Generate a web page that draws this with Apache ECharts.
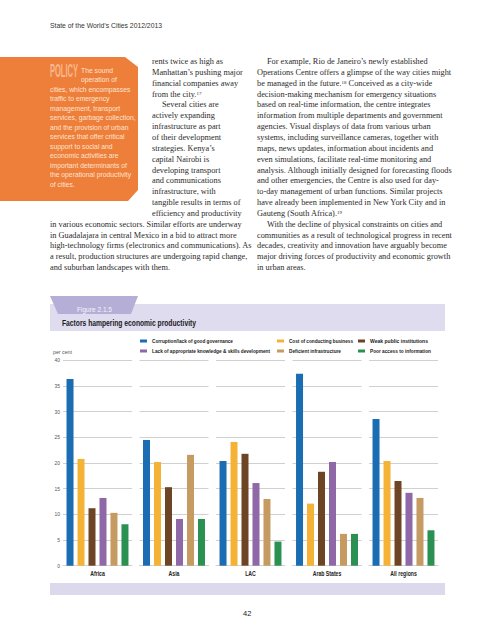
<!DOCTYPE html>
<html>
<head>
<meta charset="utf-8">
<script src="https://cdn.jsdelivr.net/npm/echarts@6/dist/echarts.min.js"></script>
<style>
html,body{margin:0;padding:0;background:#fff;}
#page{position:relative;width:495px;height:640px;overflow:hidden;background:#fff;}
#chart{position:absolute;left:0;top:0;width:495px;height:640px;}
.ln{position:absolute;white-space:nowrap;transform-origin:0 0;}
.body{font-family:'Liberation Serif',serif;font-size:8.3px;color:#2b2b2b;line-height:10px;height:10px;text-align:left;}
.box{font-family:'Liberation Sans',sans-serif;font-size:7.8px;color:#fde3cf;line-height:9px;}
.sans{font-family:'Liberation Sans',sans-serif;}
sup{font-size:60%;line-height:0;vertical-align:0.35em;}
</style>
</head>
<body>
<div id="page">
  <div id="chart"></div>
  <div id="text"></div>
</div>
<script>
// ---------------- chart data ----------------
const categories = ['Africa', 'Asia', 'LAC', 'Arab States', 'All regions'];
const factorNames = [
  'Corruption/lack of good governance',
  'Cost of conducting business',
  'Weak public institutions',
  'Lack of appropriate knowledge & skills development',
  'Deficient infrastructure',
  'Poor access to information'
];
const corruption = [36.4, 24.5, 20.4, 37.4, 28.6];
const costBusiness = [20.8, 20.2, 24.1, 12.1, 20.4];
const weakInstitutions = [11.2, 15.3, 21.8, 18.3, 16.5];
const lackSkills = [13.2, 9.1, 16.1, 20.2, 14.2];
const deficientInfra = [10.3, 21.6, 13.0, 6.2, 13.2];
const poorInfo = [8.1, 9.1, 4.7, 6.2, 6.9];
const yMin = 0, yMax = 40, yStep = 5;

// ---------------- page text ----------------
const headerText = "State of the World\u2019s Cities 2012/2013";
const boxLines = [
  'The sound', 'operation of', 'cities, which encompasses', 'traffic to emergency',
  'management, transport', 'services, garbage collection,', 'and the provision of urban',
  'services that offer critical', 'support to social and', 'economic activities are',
  'important determinants of', 'the operational productivity', 'of cities.'
];
const midLines = [
  'rents twice as high as', 'Manhattan\u2019s pushing major', 'financial companies away',
  'from the city.<sup>17</sup>', 'Several cities are', 'actively expanding',
  'infrastructure as part', 'of their development', 'strategies. Kenya\u2019s',
  'capital Nairobi is', 'developing transport', 'and communications',
  'infrastructure, with', 'tangible results in terms of', 'efficiency and productivity'
];
const leftLines = [
  'in various economic sectors. Similar efforts are underway',
  'in Guadalajara in central Mexico in a bid to attract more',
  'high-technology firms (electronics and communications). As',
  'a result, production structures are undergoing rapid change,',
  'and suburban landscapes with them.'
];
const rightLines = [
  'For example, Rio de Janeiro\u2019s newly established',
  'Operations Centre offers a glimpse of the way cities might',
  'be managed in the future.<sup>18</sup> Conceived as a city-wide',
  'decision-making mechanism for emergency situations',
  'based on real-time information, the centre integrates',
  'information from multiple departments and government',
  'agencies. Visual displays of data from various urban',
  'systems, including surveillance cameras, together with',
  'maps, news updates, information about incidents and',
  'even simulations, facilitate real-time monitoring and',
  'analysis. Although initially designed for forecasting floods',
  'and other emergencies, the Centre is also used for day-',
  'to-day management of urban functions. Similar projects',
  'have already been implemented in New York City and in',
  'Gauteng (South Africa).<sup>19</sup>',
  'With the decline of physical constraints on cities and',
  'communities as a result of technological progress in recent',
  'decades, creativity and innovation have arguably become',
  'major driving forces of productivity and economic growth',
  'in urban areas.'
];
const midIndent = [4];
const rightIndent = [0, 15];

// ---------------- build page text ----------------
const T = document.getElementById('text');
function add(html, cls, left, top, extra) {
  const d = document.createElement('div');
  d.className = 'ln ' + cls;
  d.innerHTML = html;
  d.style.left = left + 'px';
  d.style.top = top + 'px';
  if (extra) Object.assign(d.style, extra);
  T.appendChild(d);
  return d;
}
function fitWidth(el, w) {
  const nat = el.getBoundingClientRect().width;
  el.style.transform = 'scaleX(' + (w / nat) + ')';
}
const L0 = 62, LS = 10.85, IND = 10;
function bodyCol(lines, x, startIdx, indents) {
  lines.forEach((t, k) => {
    const ind = indents.includes(k) ? IND : 0;
    add(t, 'body', x + ind, L0 + (startIdx + k) * LS - 5);
  });
}
bodyCol(midLines, 152, 0, midIndent);
bodyCol(leftLines, 50, 15, []);
bodyCol(rightLines, 257, 0, rightIndent);

// header & page number
const hdr = add(headerText, 'sans', 50, 21, {fontSize: '8px', color: '#333', lineHeight: '10px'});
fitWidth(hdr, 112);
add('42', 'sans', 243, 609, {fontSize: '7.5px', color: '#222', lineHeight: '10px'});

// policy box text
const pol = add('POLICY', 'sans', 50, 62, {fontSize: '18px', fontWeight: 'bold', color: '#f8b98c', lineHeight: '18px'});
fitWidth(pol, 28);
boxLines.forEach((t, k) => {
  const x = k < 2 ? 81 : 50;
  const el = add(t, 'box', x, 70 + 9.5 * k - 4.5);
  el.style.transform = 'scaleX(0.87)';
});

// ---------------- chart ----------------
const FN = "'Liberation Sans',sans-serif";
const seriesData = [corruption, costBusiness, weakInstitutions, lackSkills, deficientInfra, poorInfo];
const colors = ['#1a6db3', '#f4b236', '#6e4524', '#8e68a7', '#c59b62', '#2b9152'];

const gLeft = 63, gStep = 76.5, gWidth = 69, gTop = 360.4, gHeight = 205.3;
const grids = categories.map((c, i) => ({left: gLeft + gStep * i, top: gTop, width: gWidth, height: gHeight}));
const xAxes = categories.map((c, i) => ({
  type: 'category', gridIndex: i, data: [c],
  axisTick: {show: false},
  axisLine: {show: true, lineStyle: {color: '#d0d0d0', width: 1}},
  axisLabel: {margin: 5, fontSize: 6.3, fontWeight: 'bold', color: '#222', fontFamily: FN}
}));
const yAxes = categories.map((c, i) => ({
  type: 'value', gridIndex: i, min: yMin, max: yMax, interval: yStep,
  axisLine: {show: false}, axisTick: {show: false},
  splitLine: {show: true, lineStyle: {color: '#d0d0d0', width: 1}},
  axisLabel: {show: i === 0, margin: 3, fontSize: 6, color: '#555', fontFamily: FN}
}));
const series = [];
categories.forEach((c, i) => {
  seriesData.forEach((arr, j) => {
    series.push({
      type: 'bar', name: factorNames[j], xAxisIndex: i, yAxisIndex: i,
      data: [arr[i]], barWidth: 7, barGap: '57%',
      itemStyle: {color: colors[j]}, silent: true
    });
  });
});
const legendBase = {
  orient: 'vertical', top: 337, padding: 0, itemWidth: 7, itemHeight: 3, itemGap: 2,
  icon: 'rect', selectedMode: false,
  textStyle: {fontSize: 5.2, fontWeight: 'bold', color: '#222', fontFamily: FN, lineHeight: 8}
};
const legends = [
  Object.assign({}, legendBase, {left: 140, data: [factorNames[0], factorNames[3]]}),
  Object.assign({}, legendBase, {left: 277, data: [factorNames[1], factorNames[4]]}),
  Object.assign({}, legendBase, {left: 358, data: [factorNames[2], factorNames[5]]})
];
const figLabel = 'Figure 2.1.5';
const figTitle = 'Factors hampering economic productivity';
const yUnit = 'per cent';

const chart = echarts.init(document.getElementById('chart'), null, {renderer: 'svg'});
chart.setOption({
  animation: false,
  color: colors,
  grid: grids,
  xAxis: xAxes,
  yAxis: yAxes,
  legend: legends,
  series: series,
  graphic: [
    {type: 'polygon', shape: {points: [[0, 57], [125, 57], [138, 67], [138, 190], [128, 201], [0, 201]]}, style: {fill: '#ee7f3b'}, silent: true},
    {type: 'rect', shape: {x: 50, y: 304, width: 395, height: 27}, style: {fill: '#dedcee'}, silent: true},
    {type: 'polygon', shape: {points: [[50, 296], [138, 296], [131, 314], [58, 314]]}, style: {fill: '#b5aed6'}, silent: true},
    {type: 'text', x: 77, y: 309.5, style: {text: figLabel, fill: '#f6f4fb', fontSize: 8, fontFamily: FN, verticalAlign: 'middle', align: 'left'}, silent: true},
    {type: 'text', x: 62, y: 323, style: {text: figTitle, fill: '#1a1a1a', fontSize: 8.6, fontWeight: 'bold', fontFamily: FN, verticalAlign: 'middle', align: 'left'}, silent: true},
    {type: 'text', x: 53, y: 351.5, style: {text: yUnit, fill: '#555', fontSize: 6, fontFamily: FN, verticalAlign: 'middle', align: 'left'}, silent: true},
    {type: 'rect', shape: {x: 50, y: 583, width: 395, height: 12}, style: {fill: '#dcd9ed'}, silent: true}
  ]
});

// condense the chart's sans-serif text (reference uses a narrow face)
const targetW = {};
targetW[factorNames[0]] = 81;
targetW[factorNames[3]] = 118;
targetW[factorNames[1]] = 64;
targetW[factorNames[4]] = 52;
targetW[factorNames[2]] = 58;
targetW[factorNames[5]] = 61;
targetW[figTitle] = 134;
targetW[figLabel] = 35;
targetW[yUnit] = 19;
document.querySelectorAll('#chart svg text').forEach(el => {
  const s = el.textContent;
  let w;
  try { w = el.getComputedTextLength(); } catch (e) { return; }
  if (!w) return;
  const tw = targetW[s] !== undefined ? targetW[s] : w * 0.82;
  el.setAttribute('textLength', tw);
  el.setAttribute('lengthAdjust', 'spacingAndGlyphs');
});
</script>
</body>
</html>
